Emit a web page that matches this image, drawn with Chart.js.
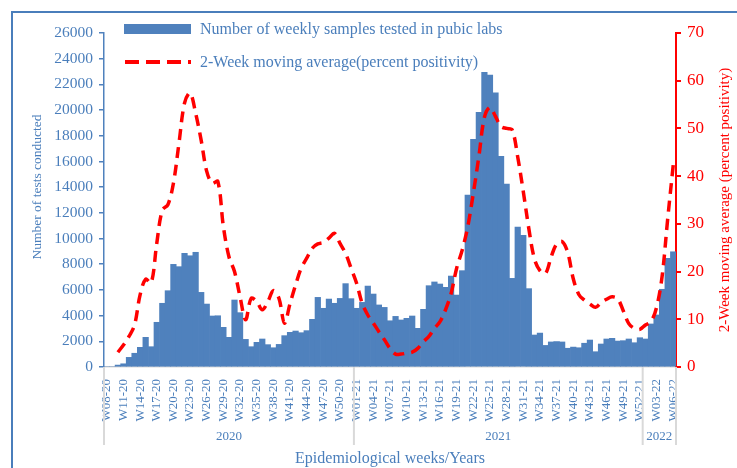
<!DOCTYPE html>
<html><head><meta charset="utf-8">
<script src="https://cdn.jsdelivr.net/npm/chart.js@4"></script>
<style>
html,body{margin:0;padding:0;background:#fff;overflow:hidden}
#wrap{position:relative;width:737px;height:468px;overflow:hidden}
#frame{position:absolute;left:11px;top:11px;width:760px;height:500px;border:2px solid #4a7ebb;box-sizing:border-box;pointer-events:none}
canvas{position:absolute;left:0;top:0}
.leg{position:absolute;left:124px;font:16px "Liberation Serif",serif;color:#4a7ebb;display:flex;align-items:center;white-space:nowrap}
</style></head><body>
<div id="wrap">
<canvas id="c" width="737" height="468"></canvas>
<div id="frame"></div>
<div class="leg" style="top:20px"><span style="display:inline-block;width:67px;height:10px;background:#4f81bd;margin-right:9px"></span>Number of weekly samples tested in pubic labs</div>
<div class="leg" style="top:53px"><svg width="67" height="8" style="margin-right:9px"><line x1="1" y1="4" x2="67" y2="4" stroke="#ff0000" stroke-width="4" stroke-dasharray="14 7"/></svg>2-Week moving average(percent positivity)</div>
</div>
<script>
const categories = [
 'W08-20','W09-20','W10-20','W11-20','W12-20','W13-20','W14-20','W15-20','W16-20','W17-20',
 'W18-20','W19-20','W20-20','W21-20','W22-20','W23-20','W24-20','W25-20','W26-20','W27-20',
 'W28-20','W29-20','W30-20','W31-20','W32-20','W33-20','W34-20','W35-20','W36-20','W37-20',
 'W38-20','W39-20','W40-20','W41-20','W42-20','W43-20','W44-20','W45-20','W46-20','W47-20',
 'W48-20','W49-20','W50-20','W51-20','W52-20',
 'W01-21','W02-21','W03-21','W04-21','W05-21','W06-21','W07-21','W08-21','W09-21','W10-21',
 'W11-21','W12-21','W13-21','W14-21','W15-21','W16-21','W17-21','W18-21','W19-21','W20-21',
 'W21-21','W22-21','W23-21','W24-21','W25-21','W26-21','W27-21','W28-21','W29-21','W30-21',
 'W31-21','W32-21','W33-21','W34-21','W35-21','W36-21','W37-21','W38-21','W39-21','W40-21',
 'W41-21','W42-21','W43-21','W44-21','W45-21','W46-21','W47-21','W48-21','W49-21','W50-21',
 'W51-21','W52-21',
 'W01-22','W02-22','W03-22','W04-22','W05-22','W06-22'
];
const tickLabels = ['W08-20','W11-20','W14-20','W17-20','W20-20','W23-20','W26-20','W29-20','W32-20','W35-20',
 'W38-20','W41-20','W44-20','W47-20','W50-20','W01-21','W04-21','W07-21','W10-21','W13-21','W16-21','W19-21',
 'W22-21','W25-21','W28-21','W31-21','W34-21','W37-21','W40-21','W43-21','W46-21','W49-21','W52-21','W03-22','W06-22'];
const years = ['2020','2021','2022'];
const samples = [
 0,0,150,250,750,1070,1530,2310,1580,3480,
 4960,5940,7990,7810,8850,8660,8930,5810,4900,3970,
 3990,3090,2310,5215,4230,2150,1580,1920,2180,1740,
 1500,1760,2440,2700,2800,2670,2830,3710,5420,4570,
 5290,4960,5340,6490,5320,
 4570,5030,6300,5680,4830,4640,3600,3940,3660,3790,
 3970,3010,4490,6330,6620,6460,6200,7080,5600,7500,
 13390,17720,19820,22940,22730,21350,16400,14230,6900,10900,
 10250,6100,2490,2640,1680,1950,1980,1950,1460,1550,
 1500,1850,2100,1190,1790,2180,2230,2020,2050,2180,
 1890,2280,
 2180,3350,4050,6050,8460,8970
];
const positivity = [
 null,null,3.1,4.6,6.4,8.8,15.1,18.4,17.6,25.9,
 32.9,34.0,38.5,46.9,55.3,57.4,53.2,47.5,41.0,38.5,
 38.9,29.4,23.1,20.0,14.7,9.9,14.4,13.7,12.0,13.7,
 16.0,14.4,9.2,13.3,17.2,20.7,22.8,24.9,25.8,26.1,
 27.0,28.0,25.9,23.8,20.7,
 17.5,13.3,10.9,9.2,7.4,5.7,3.9,2.7,2.7,2.9,
 3.1,3.9,5.3,6.4,8.1,9.5,12.0,15.4,20.7,24.5,
 29.4,36.4,44.1,52.3,54.4,52.5,50.4,50.0,49.7,44.0,
 36.8,29.0,22.7,20.2,19.6,23.0,25.8,26.3,24.0,18.5,
 15.2,14.0,13.2,12.5,13.5,14.2,14.7,14.3,11.8,9.1,
 8.1,7.9,
 8.8,9.5,12.5,19.0,31.0,42.3
];

const serif = '"Liberation Serif", "Times New Roman", serif';
const textBlue = '#4a7ebb';
const axisBlue = '#4f81bd';

const groupPlugin = {
  id: 'groups',
  afterDraw(chart) {
    const ctx = chart.ctx, xs = chart.scales.x, area = chart.chartArea;
    const n = categories.length, w = xs.width / n;
    const groups = [];
    categories.forEach((c, i) => {
      const yr = '20' + c.slice(-2);
      const g = groups[groups.length - 1];
      if (!g || g.year !== yr) groups.push({year: yr, start: i, end: i}); else g.end = i;
    });
    ctx.save();
    ctx.strokeStyle = '#d9d9d9';
    ctx.lineWidth = 2;
    const y0 = area.bottom, y1 = area.bottom + 78;
    groups.forEach((g, k) => {
      const l = xs.getPixelForValue(g.start) - w / 2;
      const r = xs.getPixelForValue(g.end) + w / 2;
      ctx.beginPath(); ctx.moveTo(l, y0); ctx.lineTo(l, y1); ctx.stroke();
      if (k === groups.length - 1) { ctx.beginPath(); ctx.moveTo(r, y0); ctx.lineTo(r, y1); ctx.stroke(); }
      ctx.fillStyle = textBlue;
      ctx.font = '13px ' + serif;
      ctx.textAlign = 'center';
      ctx.textBaseline = 'middle';
      ctx.fillText(years[k] || g.year, (l + r) / 2, area.bottom + 70);
    });
    ctx.restore();
    // left axis title
    ctx.save();
    ctx.translate(37, 187);
    ctx.rotate(-Math.PI / 2);
    ctx.fillStyle = textBlue;
    ctx.font = '13.5px ' + serif;
    ctx.textAlign = 'center';
    ctx.textBaseline = 'middle';
    ctx.fillText('Number of tests conducted', 0, 0);
    ctx.restore();
    // right axis title, reading bottom-to-top
    ctx.save();
    ctx.translate(725, (area.top + area.bottom) / 2);
    ctx.rotate(-Math.PI / 2);
    ctx.fillStyle = '#ff0000';
    ctx.font = '15px ' + serif;
    ctx.textAlign = 'center';
    ctx.textBaseline = 'middle';
    ctx.fillText('2-Week moving average (percent positivity)', 0, 0);
    ctx.restore();
  }
};

new Chart(document.getElementById('c'), {
  type: 'bar',
  data: {
    labels: categories,
    datasets: [
      {type: 'line', label: '2-Week moving average(percent positivity)', data: positivity, yAxisID: 'y1',
       borderColor: '#ff0000', borderWidth: 3.5, borderDash: [11, 7], pointRadius: 0, tension: 0.35,
       fill: false, order: 1},
      {type: 'bar', label: 'Number of weekly samples tested in pubic labs', data: samples, yAxisID: 'y',
       backgroundColor: '#4f81bd', barPercentage: 1, categoryPercentage: 1, borderWidth: 0, order: 2}
    ]
  },
  options: {
    responsive: false, animation: false, devicePixelRatio: 1,
    layout: {padding: {top: 33, left: 20, right: 0, bottom: 0}},
    plugins: {legend: {display: false}, tooltip: {enabled: false}},
    scales: {
      x: {
        offset: true,
        grid: {display: false, drawTicks: false},
        border: {display: true, color: '#d9d9d9', width: 1.5},
        ticks: {autoSkip: false, minRotation: 90, maxRotation: 90, padding: 12, color: textBlue,
                font: {family: serif, size: 13},
                callback(v, i) { const l = categories[i]; return tickLabels.includes(l) ? l : ''; }},
        title: {display: true, text: 'Epidemiological weeks/Years', color: textBlue,
                font: {family: serif, size: 16}, padding: {top: 0, bottom: 0}},
        afterFit(s) { s.height = 101; }
      },
      y: {
        position: 'left', min: 0, max: 26000,
        ticks: {stepSize: 2000, color: textBlue, font: {family: serif, size: 15.5}, padding: 6,
                callback: v => String(v)},
        grid: {drawOnChartArea: false, drawTicks: true, tickLength: 5, color: axisBlue, lineWidth: 1.5},
        border: {display: true, color: axisBlue, width: 1.5},
        afterFit(s) { s.width = 84; }
      },
      y1: {
        position: 'right', min: 0, max: 70,
        ticks: {stepSize: 10, color: '#ff0000', font: {family: serif, size: 17}, padding: 6,
                callback: v => String(v)},
        grid: {drawOnChartArea: false, drawTicks: true, tickLength: 5, color: '#ff0000', lineWidth: 2},
        border: {display: true, color: '#ff0000', width: 2},
        afterFit(s) { s.width = 61; }
      }
    }
  },
  plugins: [groupPlugin]
});
</script>
</body></html>
